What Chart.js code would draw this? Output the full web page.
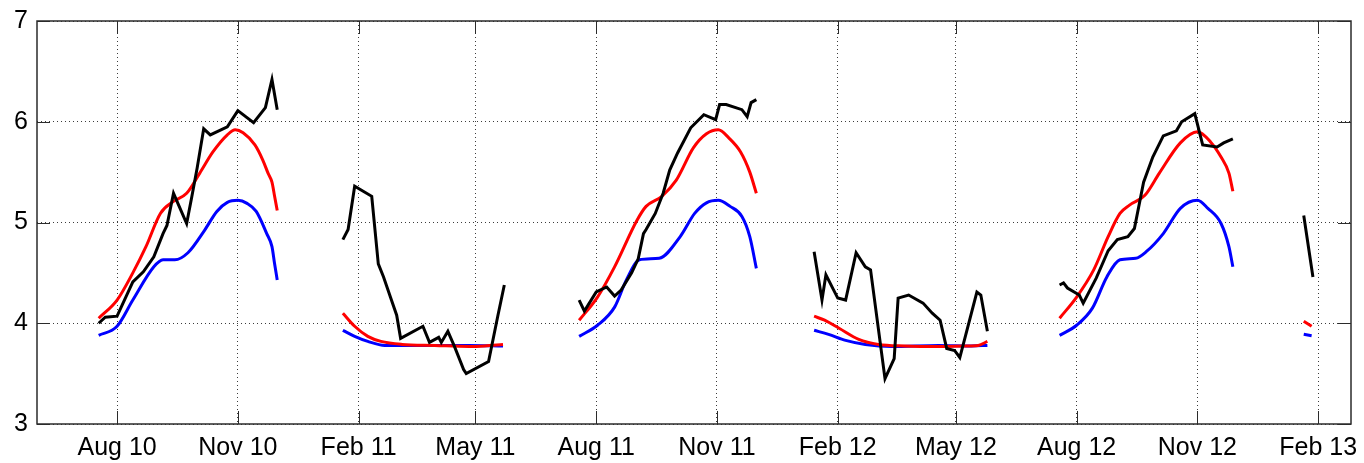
<!DOCTYPE html>
<html>
<head>
<meta charset="utf-8">
<script src="https://cdn.jsdelivr.net/npm/chart.js@4.4.1/dist/chart.umd.min.js"></script>
<style>
  html, body { margin: 0; padding: 0; background: #ffffff; }
  #wrap { width: 1364px; height: 463px; position: relative; }
</style>
</head>
<body>
<div id="wrap"><canvas id="chart"></canvas></div>
<script>
// Observed series (black), with null entries separating the seasonal runs
const blackDates = [
  '2010-07-18','2010-07-23','2010-08-01','2010-08-13','2010-08-21','2010-08-29','2010-09-05','2010-09-08',
  '2010-09-13','2010-09-23','2010-09-27','2010-10-01','2010-10-06','2010-10-11','2010-10-24','2010-11-01',
  '2010-11-13','2010-11-22','2010-11-27','2010-12-01',
  '2010-12-20',
  '2011-01-20','2011-01-24','2011-01-29','2011-02-11','2011-02-16','2011-02-20','2011-02-26','2011-03-02',
  '2011-03-05','2011-03-22','2011-03-27','2011-04-03','2011-04-05','2011-04-10','2011-04-15','2011-04-22',
  '2011-04-24','2011-05-11','2011-05-18','2011-05-23',
  '2011-06-20',
  '2011-07-19','2011-07-23','2011-08-01','2011-08-09','2011-08-15','2011-08-20','2011-08-28','2011-09-02',
  '2011-09-06','2011-09-08','2011-09-15','2011-09-21','2011-09-26','2011-10-02','2011-10-12','2011-10-22',
  '2011-10-31','2011-11-03','2011-11-08','2011-11-20','2011-11-24','2011-11-27','2011-12-01',
  '2011-12-25',
  '2012-01-14','2012-01-20','2012-01-23','2012-02-01','2012-02-07','2012-02-15','2012-02-22','2012-02-26',
  '2012-03-08','2012-03-15','2012-03-18','2012-03-26','2012-04-06','2012-04-13','2012-04-19','2012-04-24',
  '2012-04-30','2012-05-04','2012-05-17','2012-05-20','2012-05-25',
  '2012-06-20',
  '2012-07-19','2012-07-22','2012-07-25','2012-08-03','2012-08-06','2012-08-16','2012-08-25','2012-09-01',
  '2012-09-09','2012-09-14','2012-09-21','2012-09-28','2012-10-06','2012-10-16','2012-10-20','2012-10-30',
  '2012-11-05','2012-11-16','2012-11-21','2012-11-28',
  '2012-12-25',
  '2013-01-21','2013-01-28'
];
const blackValues = [
  4.00, 4.06, 4.07, 4.41, 4.51, 4.66, 4.89, 4.97,
  5.29, 4.99, 5.26, 5.54, 5.93, 5.87, 5.95, 6.11,
  5.99, 6.14, 6.42, 6.12,
  null,
  4.83, 4.93, 5.36, 5.26, 4.59, 4.46, 4.23, 4.08,
  3.85, 3.97, 3.81, 3.86, 3.81, 3.92, 3.77, 3.54,
  3.50, 3.62, 4.07, 4.38,
  null,
  4.23, 4.12, 4.31, 4.36, 4.27, 4.33, 4.50, 4.64,
  4.89, 4.93, 5.09, 5.29, 5.52, 5.69, 5.94, 6.07,
  6.02, 6.17, 6.17, 6.12, 6.05, 6.19, 6.22,
  null,
  4.71, 4.23, 4.48, 4.25, 4.23, 4.70, 4.56, 4.53,
  3.45, 3.65, 4.25, 4.28, 4.20, 4.10, 4.03, 3.75,
  3.73, 3.66, 4.31, 4.28, 3.92,
  null,
  4.38, 4.40, 4.35, 4.28, 4.20, 4.45, 4.72, 4.83,
  4.86, 4.94, 5.40, 5.65, 5.86, 5.91, 6.00, 6.08,
  5.77, 5.75, 5.79, 5.83,
  null,
  5.07, 4.46
];

// Red series
const redDates = [
  '2010-07-18','2010-08-01','2010-08-13','2010-08-23','2010-09-03','2010-09-13','2010-09-23','2010-10-03',
  '2010-10-13','2010-10-24','2010-10-30','2010-11-05','2010-11-14','2010-11-20','2010-11-24','2010-11-27',
  '2010-11-29','2010-12-01',
  '2010-12-20',
  '2011-01-20','2011-01-29','2011-02-08','2011-02-18','2011-03-06','2011-03-31','2011-04-26','2011-05-08',
  '2011-05-22',
  '2011-06-20',
  '2011-07-19','2011-08-02','2011-08-15','2011-09-01','2011-09-08','2011-09-20','2011-10-01','2011-10-14',
  '2011-10-24','2011-11-02','2011-11-10','2011-11-19','2011-11-26','2011-12-01',
  '2011-12-25',
  '2012-01-14','2012-01-22','2012-02-02','2012-02-17','2012-03-03','2012-03-23','2012-04-18','2012-05-08',
  '2012-05-18','2012-05-25',
  '2012-06-20',
  '2012-07-19','2012-08-01','2012-08-14','2012-08-25','2012-09-03','2012-09-10','2012-09-22','2012-10-03',
  '2012-10-19','2012-11-01','2012-11-11','2012-11-19','2012-11-25','2012-11-28',
  '2012-12-25',
  '2013-01-21','2013-01-27'
];
const redValues = [
  4.05, 4.23, 4.50, 4.76, 5.09, 5.21, 5.29, 5.49,
  5.70, 5.87, 5.92, 5.89, 5.77, 5.62, 5.49, 5.40,
  5.26, 5.12,
  null,
  4.10, 3.97, 3.87, 3.82, 3.79, 3.78, 3.77, 3.775,
  3.79,
  null,
  4.03, 4.26, 4.56, 5.02, 5.16, 5.26, 5.42, 5.74,
  5.88, 5.92, 5.84, 5.70, 5.50, 5.29,
  null,
  4.07, 4.03, 3.95, 3.84, 3.79, 3.775, 3.77, 3.775,
  3.78, 3.82,
  null,
  4.05, 4.26, 4.53, 4.86, 5.09, 5.17, 5.27, 5.49,
  5.79, 5.90, 5.80, 5.65, 5.49, 5.31,
  null,
  4.02, 3.97
];

// Blue series
const blueDates = [
  '2010-07-18','2010-08-01','2010-08-13','2010-08-29','2010-09-05','2010-09-14','2010-09-24','2010-10-06',
  '2010-10-16','2010-10-24','2010-11-01','2010-11-08','2010-11-15','2010-11-23','2010-11-27','2010-11-29',
  '2010-12-01',
  '2010-12-20',
  '2011-01-20','2011-01-29','2011-02-08','2011-02-21','2011-03-19','2011-04-26','2011-05-22',
  '2011-06-20',
  '2011-07-19','2011-08-02','2011-08-15','2011-08-24','2011-09-03','2011-09-18','2011-10-04','2011-10-15',
  '2011-10-24','2011-11-02','2011-11-11','2011-11-20','2011-11-26','2011-12-01',
  '2011-12-25',
  '2012-01-14','2012-01-25','2012-02-07','2012-02-22','2012-03-13','2012-04-18','2012-05-13','2012-05-25',
  '2012-06-20',
  '2012-07-19','2012-08-01','2012-08-13','2012-08-24','2012-09-03','2012-09-15','2012-09-23','2012-10-06',
  '2012-10-19','2012-11-01','2012-11-09','2012-11-19','2012-11-25','2012-11-28',
  '2012-12-25',
  '2013-01-21','2013-01-27'
];
const blueValues = [
  3.88, 3.97, 4.23, 4.56, 4.63, 4.63, 4.70, 4.91,
  5.11, 5.20, 5.22, 5.19, 5.11, 4.89, 4.76, 4.59,
  4.43,
  null,
  3.93, 3.87, 3.82, 3.78, 3.78, 3.78, 3.775,
  null,
  3.87, 3.98, 4.16, 4.43, 4.63, 4.645, 4.86, 5.09,
  5.195, 5.22, 5.16, 5.06, 4.86, 4.545,
  null,
  3.93, 3.89, 3.83, 3.79, 3.77, 3.78, 3.775, 3.78,
  null,
  3.88, 3.98, 4.15, 4.46, 4.63, 4.645, 4.71, 4.89,
  5.14, 5.22, 5.14, 4.99, 4.76, 4.56,
  null,
  3.89, 3.875
];

// Date axis: quarterly ticks and their labels
const tickDates = ['2010-08-01','2010-11-01','2011-02-01','2011-05-01','2011-08-01','2011-11-01',
                   '2012-02-01','2012-05-01','2012-08-01','2012-11-01','2013-02-01'];
const tickLabels = ['Aug 10','Nov 10','Feb 11','May 11','Aug 11','Nov 11',
                    'Feb 12','May 12','Aug 12','Nov 12','Feb 13'];
const xStart = '2010-06-01';
const xEnd = '2013-02-26';
const yMin = 3;
const yMax = 7;

function dayNumber(s) {
  const [y, m, d] = s.split('-').map(Number);
  return Date.UTC(y, m - 1, d) / 86400000;
}
function toPoints(dates, values) {
  return dates.map((d, i) => ({ x: dayNumber(d), y: values[i] }));
}

const tickDays = tickDates.map(dayNumber);
const xMinDay = dayNumber(xStart);
const xMaxDay = dayNumber(xEnd);

const FRAME = '#2b2b2b';
const GRID = '#3c3c3c';
const FONT = { family: "'Liberation Sans', Arial, Helvetica, sans-serif", size: 25 };
const TICK_LEN = 13;

// Boxed axes with short inward tick marks on all four sides
const boxFrame = {
  id: 'boxFrame',
  beforeDatasetsDraw(chart) {
    const { ctx, chartArea: a, scales } = chart;
    ctx.save();
    ctx.strokeStyle = FRAME;
    ctx.lineWidth = 1;
    ctx.setLineDash([]);
    ctx.beginPath();
    scales.x.ticks.forEach(t => {
      const px = Math.round(scales.x.getPixelForValue(t.value)) + 0.5;
      ctx.moveTo(px, a.bottom); ctx.lineTo(px, a.bottom - TICK_LEN);
      ctx.moveTo(px, a.top); ctx.lineTo(px, a.top + TICK_LEN);
    });
    scales.y.ticks.forEach(t => {
      const py = Math.round(scales.y.getPixelForValue(t.value)) + 0.5;
      ctx.moveTo(a.left, py); ctx.lineTo(a.left + TICK_LEN, py);
      ctx.moveTo(a.right, py); ctx.lineTo(a.right - TICK_LEN, py);
    });
    ctx.stroke();
    ctx.lineWidth = 1.5;
    ctx.strokeRect(a.left, a.top, a.right - a.left, a.bottom - a.top);
    ctx.restore();
  }
};

function setDateTicks(scale) {
  scale.ticks = tickDays.map(v => ({ value: v }));
}
// fixed box sizes; label overhang is already covered by the layout padding
function fixHeight(h) {
  return s => { s.height = h; s.paddingLeft = 0; s.paddingRight = 0; s.paddingTop = 0; s.paddingBottom = 0; };
}
function fixWidth(w) {
  return s => { s.width = w; s.paddingLeft = 0; s.paddingRight = 0; s.paddingTop = 0; s.paddingBottom = 0; };
}

new Chart(document.getElementById('chart'), {
  type: 'line',
  data: {
    datasets: [
      { data: toPoints(blackDates, blackValues), borderColor: '#000000', borderWidth: 3,
        pointRadius: 0, tension: 0, spanGaps: false, order: 0 },
      { data: toPoints(redDates, redValues), borderColor: '#ff0000', borderWidth: 3,
        pointRadius: 0, cubicInterpolationMode: 'monotone', spanGaps: false, order: 1 },
      { data: toPoints(blueDates, blueValues), borderColor: '#0000ff', borderWidth: 3,
        pointRadius: 0, cubicInterpolationMode: 'monotone', spanGaps: false, order: 2 }
    ]
  },
  options: {
    responsive: true,
    maintainAspectRatio: false,
    devicePixelRatio: 1,
    animation: false,
    layout: { padding: { left: 0, right: 13, top: 21, bottom: 0 } },
    plugins: { legend: { display: false }, tooltip: { enabled: false } },
    scales: {
      x: {
        type: 'linear', position: 'bottom', min: xMinDay, max: xMaxDay,
        afterBuildTicks: setDateTicks,
        afterFit: fixHeight(39),
        ticks: {
          autoSkip: false, maxRotation: 0, padding: 9, color: '#000000', font: FONT,
          callback: (v) => { const i = tickDays.indexOf(v); return i >= 0 ? tickLabels[i] : ''; }
        },
        grid: { color: GRID, lineWidth: 1, drawTicks: false },
        border: { display: false, dash: [1, 3] }
      },
      y: {
        type: 'linear', position: 'left', min: yMin, max: yMax,
        afterFit: fixWidth(37),
        ticks: { stepSize: 1, padding: 9, color: '#000000', font: FONT },
        grid: { color: GRID, lineWidth: 1, drawTicks: false },
        border: { display: false, dash: [1, 3] }
      }
    }
  },
  plugins: [boxFrame]
});
</script>
</body>
</html>
